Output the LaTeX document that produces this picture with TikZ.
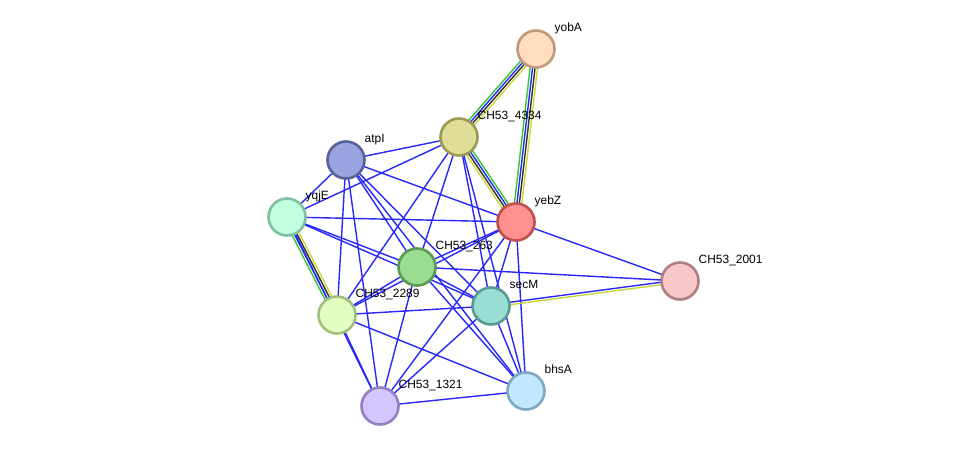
\documentclass[tikz,border=0pt]{standalone}
\usepackage{fontspec}
\setmainfont{Liberation Sans}
\usetikzlibrary{calc,backgrounds}

\definecolor{edgeblue}{RGB}{40,40,250}
\definecolor{edgegreen}{RGB}{50,200,50}
\definecolor{edgeblack}{RGB}{50,50,50}
\definecolor{edgeyellow}{RGB}{200,215,60}

\tikzset{
    prot/.style={circle, line width=1.5pt, minimum size=0.74cm, inner sep=0pt, outer sep=0pt},
    lbl/.style={font=\fontsize{6.8}{8}\selectfont, inner sep=0pt, anchor=base west, xshift=3pt, yshift=2.6pt},
    link/.style={draw=edgeblue, line width=0.8pt},
}

\begin{document}
\begin{tikzpicture}[x=0.02cm, y=-0.02cm]
    \useasboundingbox (0,0) rectangle (976,452);

    % proteins
    \node(yobA) [prot, fill={rgb,255:red,255;green,222;blue,192}, draw={rgb,255:red,192;green,154;blue,122}, label={[lbl]45:yobA}] at (536,49) {};
    \node(c4334) [prot, fill={rgb,255:red,222;green,222;blue,152}, draw={rgb,255:red,154;green,154;blue,85}, label={[lbl]45:CH53\_4334}] at (459,137) {};
    \node(atpI) [prot, fill={rgb,255:red,153;green,163;blue,224}, draw={rgb,255:red,90;green,99;blue,153}, label={[lbl]45:atpI}] at (346,160) {};
    \node(yqjE) [prot, fill={rgb,255:red,192;green,255;blue,224}, draw={rgb,255:red,128;green,192;blue,160}, label={[lbl]45:yqjE}] at (287,217) {};
    \node(yebZ) [prot, fill={rgb,255:red,255;green,144;blue,144}, draw={rgb,255:red,192;green,80;blue,80}, label={[lbl]45:yebZ}] at (516,222) {};
    \node(c263) [prot, fill={rgb,255:red,153;green,221;blue,144}, draw={rgb,255:red,90;green,154;blue,85}, label={[lbl]45:CH53\_263}] at (417,267) {};
    \node(c2001) [prot, fill={rgb,255:red,248;green,200;blue,200}, draw={rgb,255:red,176;green,128;blue,128}, label={[lbl]45:CH53\_2001}] at (680,281) {};
    \node(secM) [prot, fill={rgb,255:red,153;green,221;blue,213}, draw={rgb,255:red,90;green,154;blue,149}, label={[lbl]45:secM}] at (491,306) {};
    \node(c2289) [prot, fill={rgb,255:red,224;green,255;blue,192}, draw={rgb,255:red,160;green,192;blue,128}, label={[lbl]45:CH53\_2289}] at (337,315) {};
    \node(bhsA) [prot, fill={rgb,255:red,192;green,232;blue,255}, draw={rgb,255:red,128;green,168;blue,192}, label={[lbl]45:bhsA}] at (526,391) {};
    \node(c1321) [prot, fill={rgb,255:red,213;green,197;blue,255}, draw={rgb,255:red,149;green,128;blue,192}, label={[lbl]45:CH53\_1321}] at (380,406) {};

    \begin{scope}[on background layer]
        % single evidence links
        \foreach \a/\b in {atpI/c4334, atpI/yqjE, atpI/yebZ, atpI/c263, atpI/secM, atpI/bhsA, atpI/c2289, atpI/c1321,
                yqjE/c4334, yqjE/yebZ, yqjE/c263, yqjE/secM, yqjE/c1321,
                c4334/c263, c4334/c2289, c4334/secM, c4334/bhsA,
                yebZ/c263, yebZ/c2289, yebZ/c2001, yebZ/secM, yebZ/bhsA, yebZ/c1321,
                c263/c2001, c263/secM, c263/c2289, c263/c1321, c263/bhsA,
                secM/c2289, secM/c1321, secM/bhsA,
                c2289/bhsA, c2289/c1321, c1321/bhsA}
            \draw[link] (\a) -- (\b);
        % multiple evidence links
        \foreach \a/\b in {yobA/c4334, yobA/yebZ, yebZ/c4334, yqjE/c2289}
            \foreach \c/\o in {edgegreen/-2.1pt, edgeblue/-0.7pt, edgeblack/0.7pt, edgeyellow/2.1pt}
                \draw[link, draw=\c] ($(\a)!\o!90:(\b)$) -- ($(\b)!\o!-90:(\a)$);
        \foreach \c/\o in {edgeblue/0.7pt, edgeyellow/-0.7pt}
            \draw[link, draw=\c] ($(secM)!\o!90:(c2001)$) -- ($(c2001)!\o!-90:(secM)$);
    \end{scope}
\end{tikzpicture}
\end{document}
